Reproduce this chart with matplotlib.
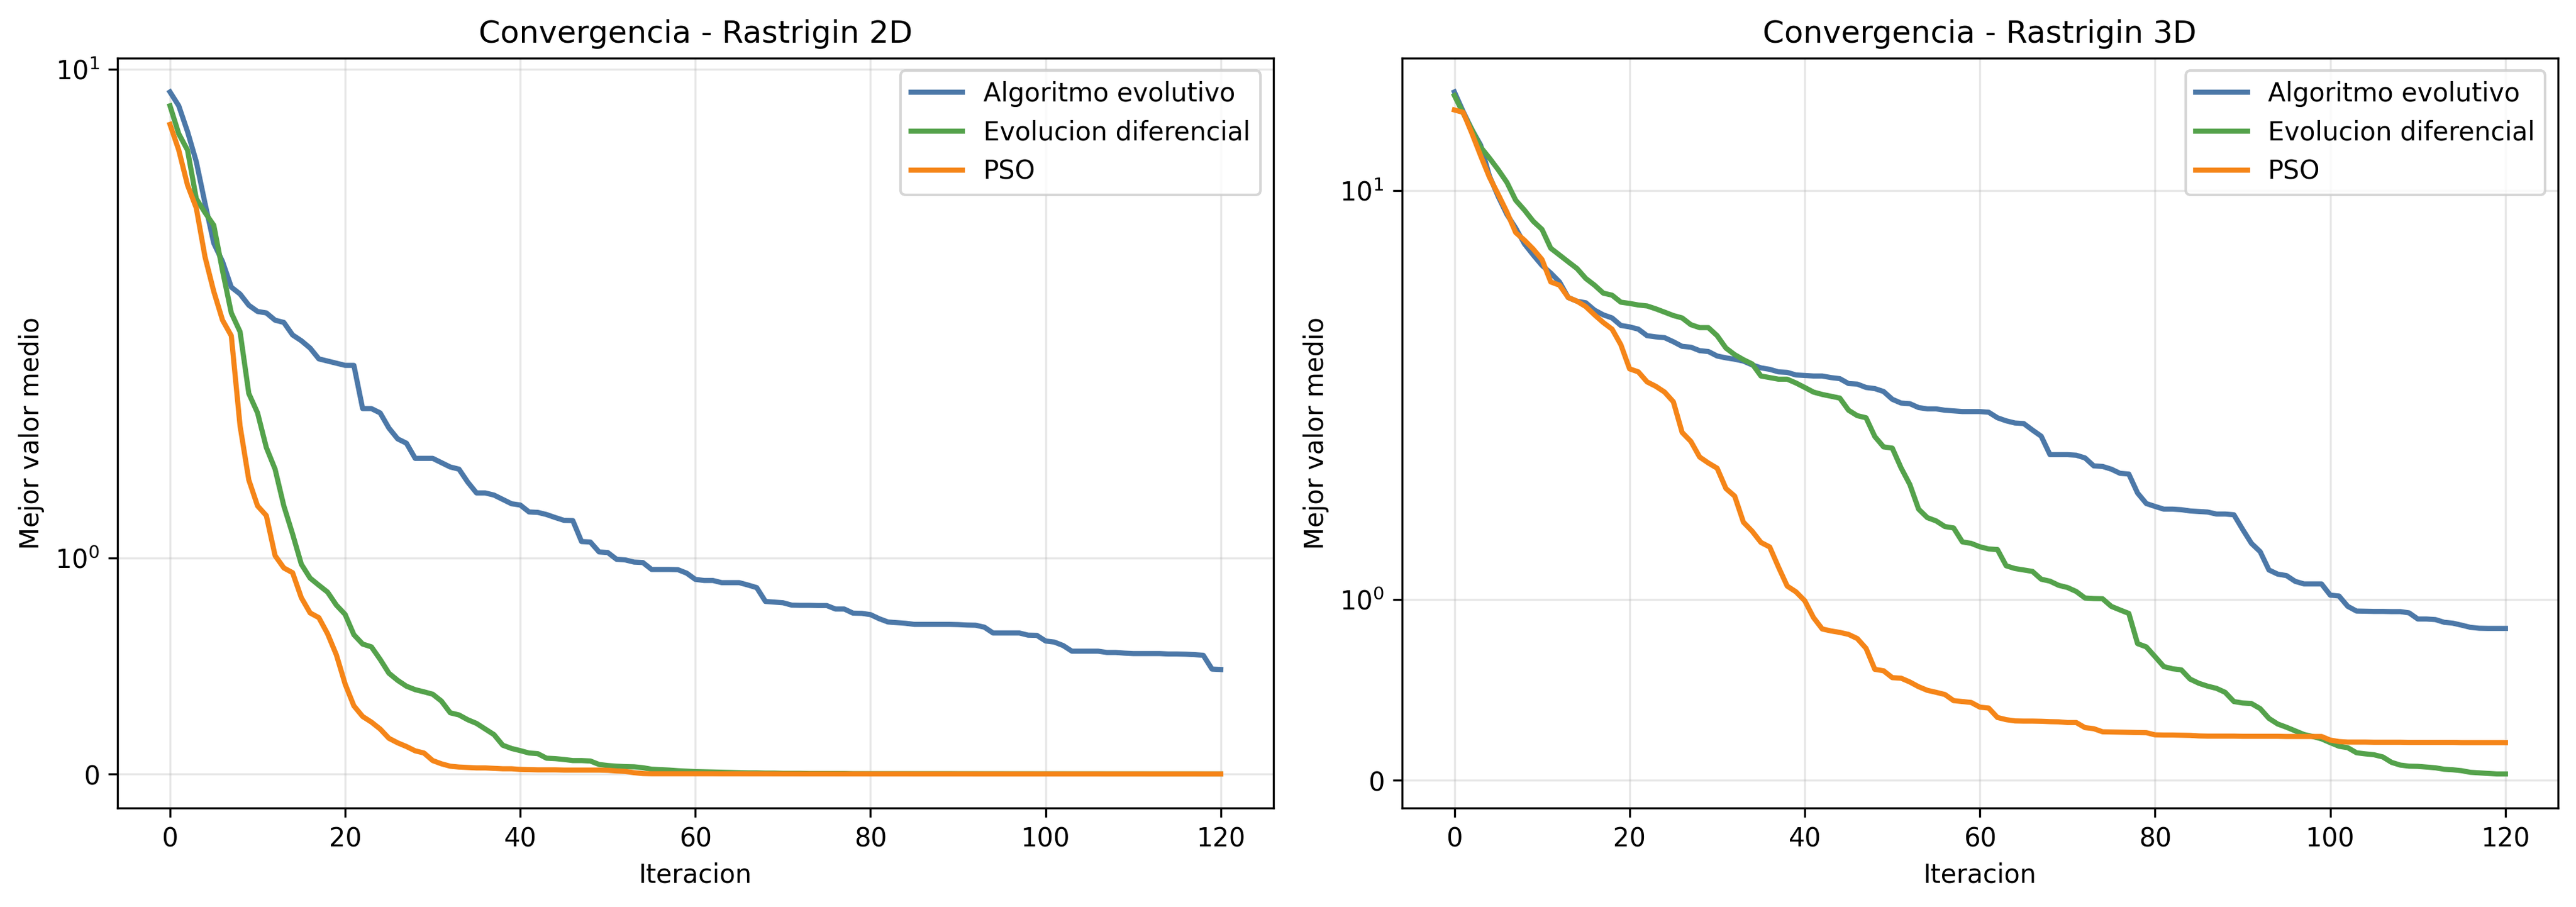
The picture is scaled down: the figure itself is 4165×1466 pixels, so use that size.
import numpy as np
import matplotlib
matplotlib.use("Agg")
import matplotlib.pyplot as plt

iters = list(range(121))
labels = ["Algoritmo evolutivo", "Evolucion diferencial", "PSO"]
colors = ["#4C78A8", "#54A24B", "#F58518"]
titles = ["Convergencia - Rastrigin 2D", "Convergencia - Rastrigin 3D"]

# Rastrigin 2D
ae_2d = [8.76, 8.07, 6.93, 5.80, 4.53, 3.58, 3.21, 2.76, 2.65, 2.48,
         2.39, 2.37, 2.27, 2.24, 2.08, 2.01, 1.97, 1.92, 1.91, 1.90,
         1.89, 1.89, 1.69, 1.69, 1.67, 1.60, 1.55, 1.53, 1.46, 1.46,
         1.46, 1.44, 1.42, 1.41, 1.35, 1.30, 1.30, 1.29, 1.27, 1.25,
         1.244, 1.212, 1.21, 1.20, 1.186, 1.173, 1.172, 1.075, 1.073, 1.027,
         1.024, 0.993, 0.99, 0.98, 0.978, 0.946, 0.946, 0.946, 0.945, 0.929,
         0.90, 0.895, 0.895, 0.885, 0.885, 0.885, 0.874, 0.862, 0.798, 0.795,
         0.792, 0.781, 0.780, 0.780, 0.779, 0.779, 0.763, 0.763, 0.744, 0.743,
         0.737, 0.718, 0.703, 0.700, 0.697, 0.692, 0.692, 0.692, 0.692, 0.692,
         0.691, 0.689, 0.688, 0.679, 0.652, 0.652, 0.652, 0.652, 0.642, 0.641,
         0.615, 0.610, 0.594, 0.568, 0.568, 0.568, 0.568, 0.562, 0.562, 0.559,
         0.557, 0.557, 0.557, 0.557, 0.555, 0.555, 0.554, 0.552, 0.549, 0.485, 0.483]

de_2d = [8.07, 6.84, 6.21, 4.66, 4.29, 3.98, 3.04, 2.37, 2.12, 1.76,
         1.67, 1.51, 1.41, 1.24, 1.11, 0.97, 0.906, 0.873, 0.841, 0.781,
         0.738, 0.644, 0.601, 0.588, 0.530, 0.466, 0.433, 0.406, 0.390, 0.380,
         0.369, 0.337, 0.283, 0.273, 0.251, 0.234, 0.208, 0.182, 0.133, 0.118,
         0.108, 0.097, 0.094, 0.073, 0.071, 0.067, 0.062, 0.062, 0.060, 0.044,
         0.039, 0.036, 0.034, 0.033, 0.029, 0.022, 0.020, 0.018, 0.015, 0.013,
         0.011, 0.010, 0.009, 0.008, 0.007, 0.006, 0.005, 0.005, 0.004, 0.004,
         0.003, 0.003, 0.003, 0.002, 0.002, 0.002, 0.002, 0.002, 0.001, 0.001,
         0.001, 0.001, 0.001, 0.001, 0.001, 0.001, 0.001, 0.001, 0.001, 0.001,
         0.0008, 0.0008, 0.0008, 0.0007, 0.0007, 0.0007, 0.0006, 0.0006, 0.0006, 0.0005,
         0.0005, 0.0005, 0.0005, 0.0004, 0.0004, 0.0004, 0.0004, 0.0003, 0.0003, 0.0003,
         0.0003, 0.0003, 0.0002, 0.0002, 0.0002, 0.0002, 0.0002, 0.0002, 0.0001, 0.0001, 0.0001]

pso_2d = [7.23, 6.21, 5.05, 4.41, 3.30, 2.69, 2.27, 2.07, 1.61, 1.36,
          1.24, 1.195, 1.01, 0.953, 0.931, 0.815, 0.745, 0.723, 0.648, 0.551,
          0.416, 0.315, 0.266, 0.240, 0.208, 0.165, 0.144, 0.127, 0.107, 0.097,
          0.062, 0.047, 0.036, 0.032, 0.030, 0.028, 0.028, 0.026, 0.024, 0.024,
          0.021, 0.020, 0.019, 0.019, 0.019, 0.018, 0.018, 0.018, 0.018, 0.018,
          0.017, 0.014, 0.012, 0.006, 0.002, 0.001, 0.001, 0.001, 0.001, 0.001,
          0.001, 0.001, 0.001, 0.0008, 0.0008, 0.0008, 0.0007, 0.0007, 0.0007, 0.0006,
          0.0006, 0.0006, 0.0005, 0.0005, 0.0005, 0.0005, 0.0004, 0.0004, 0.0004, 0.0004,
          0.0003, 0.0003, 0.0003, 0.0003, 0.0003, 0.0002, 0.0002, 0.0002, 0.0002, 0.0002,
          0.0002, 0.0002, 0.0001, 0.0001, 0.0001, 0.0001, 0.0001, 0.0001, 0.0001, 0.0001,
          0.0001, 0.0001, 0.0001, 0.0001, 0.0001, 0.0001, 0.0001, 0.0001, 0.0001, 0.0001,
          0.0001, 0.0001, 0.0001, 0.0001, 0.0001, 0.0001, 0.0001, 0.0001, 0.0001, 0.0001, 0.0001]

# Rastrigin 3D
ae_3d = [20.1, 17.5, 15.4, 13.8, 11.1, 9.6, 8.45, 7.68, 6.87, 6.35,
         5.90, 5.59, 5.25, 4.70, 4.58, 4.53, 4.30, 4.16, 4.07, 3.86,
         3.82, 3.76, 3.59, 3.56, 3.54, 3.44, 3.33, 3.31, 3.23, 3.21,
         3.11, 3.07, 3.04, 3.00, 2.92, 2.86, 2.83, 2.78, 2.77, 2.72,
         2.71, 2.70, 2.70, 2.67, 2.65, 2.56, 2.55, 2.49, 2.47, 2.42,
         2.29, 2.23, 2.22, 2.16, 2.14, 2.14, 2.12, 2.11, 2.10, 2.10,
         2.10, 2.09, 2.01, 1.987, 1.975, 1.972, 1.936, 1.902, 1.80, 1.80,
         1.80, 1.797, 1.782, 1.738, 1.735, 1.72, 1.697, 1.693, 1.588, 1.53,
         1.514, 1.499, 1.499, 1.496, 1.489, 1.486, 1.483, 1.472, 1.472, 1.468,
         1.387, 1.31, 1.264, 1.163, 1.14, 1.132, 1.10, 1.086, 1.086, 1.086,
         1.024, 1.019, 0.962, 0.936, 0.935, 0.934, 0.934, 0.933, 0.933, 0.926,
         0.892, 0.892, 0.889, 0.874, 0.869, 0.858, 0.846, 0.841, 0.840, 0.840, 0.840]

de_3d = [19.6, 17.3, 15.4, 13.6, 12.6, 11.6, 10.6, 9.35, 8.72, 8.06,
         7.61, 6.66, 6.35, 6.05, 5.77, 5.38, 5.13, 4.85, 4.78, 4.55,
         4.51, 4.46, 4.43, 4.34, 4.24, 4.14, 4.07, 3.88, 3.80, 3.80,
         3.59, 3.29, 3.14, 3.03, 2.94, 2.70, 2.67, 2.64, 2.64, 2.57,
         2.49, 2.41, 2.37, 2.34, 2.31, 2.12, 2.04, 2.01, 1.90, 1.843,
         1.836, 1.727, 1.635, 1.499, 1.452, 1.434, 1.403, 1.395, 1.318, 1.31,
         1.291, 1.279, 1.276, 1.186, 1.171, 1.163, 1.155, 1.112, 1.101, 1.078,
         1.066, 1.044, 1.008, 1.005, 1.004, 0.962, 0.942, 0.923, 0.756, 0.738,
         0.684, 0.629, 0.617, 0.611, 0.560, 0.537, 0.521, 0.509, 0.487, 0.436,
         0.428, 0.425, 0.397, 0.343, 0.312, 0.294, 0.274, 0.254, 0.243, 0.230,
         0.209, 0.189, 0.181, 0.153, 0.147, 0.142, 0.130, 0.100, 0.085, 0.079,
         0.078, 0.074, 0.070, 0.062, 0.059, 0.054, 0.045, 0.042, 0.039, 0.036, 0.036]

pso_3d = [17.7, 17.4, 15.0, 12.8, 11.0, 9.75, 8.59, 7.44, 7.05, 6.62,
          6.15, 5.25, 5.13, 4.70, 4.58, 4.41, 4.16, 3.94, 3.76, 3.37,
          2.84, 2.78, 2.59, 2.51, 2.41, 2.25, 1.923, 1.873, 1.787, 1.754,
          1.725, 1.613, 1.571, 1.427, 1.377, 1.315, 1.29, 1.179, 1.074, 1.042,
          0.993, 0.90, 0.837, 0.826, 0.818, 0.807, 0.784, 0.73, 0.614, 0.606,
          0.568, 0.565, 0.544, 0.518, 0.498, 0.487, 0.475, 0.441, 0.436, 0.431,
          0.405, 0.40, 0.348, 0.336, 0.329, 0.328, 0.328, 0.327, 0.325, 0.324,
          0.320, 0.320, 0.292, 0.286, 0.269, 0.268, 0.267, 0.266, 0.265, 0.264,
          0.252, 0.251, 0.251, 0.250, 0.249, 0.246, 0.245, 0.245, 0.245, 0.245,
          0.244, 0.244, 0.244, 0.244, 0.244, 0.243, 0.243, 0.243, 0.243, 0.243,
          0.223, 0.215, 0.212, 0.212, 0.212, 0.211, 0.211, 0.211, 0.211, 0.210,
          0.210, 0.210, 0.210, 0.210, 0.210, 0.209, 0.209, 0.209, 0.209, 0.209, 0.209]

series = [[ae_2d, de_2d, pso_2d], [ae_3d, de_3d, pso_3d]]

fig = plt.figure(figsize=(4165 / 300, 1466 / 300), dpi=300)
ax1 = fig.add_axes([0.0456, 0.1091, 0.4487, 0.8271])
ax2 = fig.add_axes([0.5442, 0.1091, 0.4488, 0.8271])

for ax, title, data in zip([ax1, ax2], titles, series):
    for ys, lab, col in zip(data, labels, colors):
        ax.plot(iters, ys, color=col, linewidth=2, label=lab)
    ax.set_yscale("symlog")
    ax.set_title(title, fontsize=12)
    ax.set_xlabel("Iteracion")
    ax.set_ylabel("Mejor valor medio")
    ax.set_xticks([0, 20, 40, 60, 80, 100, 120])
    ax.grid(True, alpha=0.3)
    ax.legend(loc="upper right")

fig.savefig("out.png", dpi=300)
